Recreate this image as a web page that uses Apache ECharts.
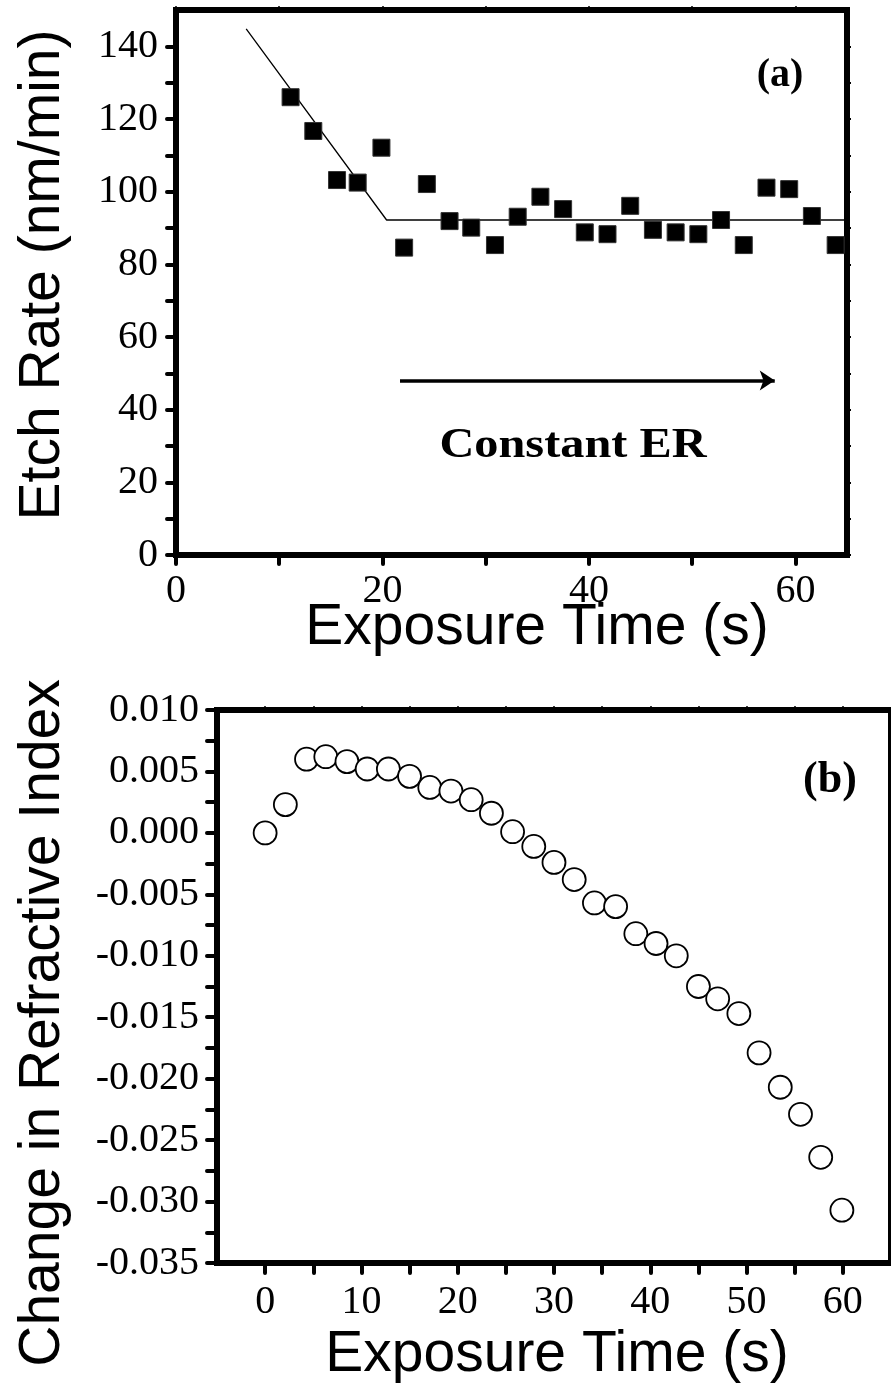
<!DOCTYPE html>
<html>
<head>
<meta charset="utf-8">
<script src="https://cdn.jsdelivr.net/npm/echarts@6/dist/echarts.min.js"></script>
<style>
html,body{margin:0;padding:0;background:#fff;}
#chart{width:891px;height:1387px;}
</style>
</head>
<body>
<div id="chart"></div>
<script>
// ---- Panel (a): etch rate ----
const timeA = [11.1, 13.3, 15.6, 17.6, 19.9, 22.1, 24.3, 26.5, 28.6, 30.9, 33.1, 35.3, 37.5, 39.6, 41.8, 44.0, 46.2, 48.4, 50.6, 52.8, 55.0, 57.2, 59.4, 61.6, 63.9];
const etchRate = [126.0, 116.7, 103.2, 102.5, 112.1, 84.6, 102.1, 91.9, 90.1, 85.3, 93.1, 98.6, 95.2, 88.8, 88.3, 96.1, 89.5, 88.8, 88.3, 92.2, 85.3, 101.1, 100.7, 93.3, 85.3];
const fitX = [6.8, 20.4, 65];
const fitY = [144.8, 92.2, 92.2];
const arrowX = [21.7, 58.0];
const arrowY = [48, 48];
const xTicksA = [0, 10, 20, 30, 40, 50, 60];
const xLabelsA = [0, 20, 40, 60];
const yTicksA = [0, 10, 20, 30, 40, 50, 60, 70, 80, 90, 100, 110, 120, 130, 140];
const yLabelsA = [0, 20, 40, 60, 80, 100, 120, 140];

// ---- Panel (b): change in refractive index ----
const timeB = [0, 2.1, 4.3, 6.3, 8.5, 10.6, 12.8, 15.0, 17.1, 19.3, 21.4, 23.5, 25.7, 27.9, 30.0, 32.1, 34.2, 36.4, 38.5, 40.6, 42.7, 45.0, 47.0, 49.2, 51.3, 53.5, 55.6, 57.7, 59.9];
const deltaN = [0.0000, 0.0023, 0.0060, 0.0062, 0.0058, 0.0052, 0.0052, 0.0046, 0.0037, 0.0034, 0.0027, 0.0016, 0.0001, -0.0011, -0.0024, -0.0038, -0.0057, -0.0060, -0.0082, -0.0090, -0.0100, -0.0125, -0.0135, -0.0147, -0.0179, -0.0207, -0.0229, -0.0264, -0.0307];
const xTicksB = [0, 5, 10, 15, 20, 25, 30, 35, 40, 45, 50, 55, 60];
const xLabelsB = [0, 10, 20, 30, 40, 50, 60];
const yTicksB = [-0.035, -0.0325, -0.03, -0.0275, -0.025, -0.0225, -0.02, -0.0175, -0.015, -0.0125, -0.01, -0.0075, -0.005, -0.0025, 0, 0.0025, 0.005, 0.0075, 0.01];
const yLabelsB = [-0.035, -0.03, -0.025, -0.02, -0.015, -0.01, -0.005, 0, 0.005, 0.01];

const serif = 'Liberation Serif';
const labelStyle = {color: '#000', fontFamily: serif, fontSize: 40};

function zip(a, b) { return a.map((v, i) => [v, b[i]]); }

const chart = echarts.init(document.getElementById('chart'), null, {renderer: 'canvas'});

const noLine = {show: false, onZero: false};

const option = {
  animation: false,
  backgroundColor: '#fff',
  grid: [
    {left: 176, top: 10, width: 671, height: 545, show: true, borderColor: '#000', borderWidth: 6, backgroundColor: 'rgba(0,0,0,0)'},
    {left: 217, top: 710, width: 676, height: 553, show: true, borderColor: '#000', borderWidth: 6, backgroundColor: 'rgba(0,0,0,0)'}
  ],
  xAxis: [
    {gridIndex: 0, type: 'value', min: 0, max: 65, position: 'bottom',
     axisLine: noLine, splitLine: {show: false},
     axisTick: {customValues: xTicksA, length: 9, lineStyle: {color: '#000', width: 4, cap: 'round'}},
     axisLabel: Object.assign({customValues: xLabelsA, margin: 16}, labelStyle)},
    {gridIndex: 0, type: 'value', min: 0, max: 65, position: 'top',
     axisLine: noLine, splitLine: {show: false},
     axisTick: {customValues: xTicksA, length: 4, lineStyle: {color: '#000', width: 1.5}},
     axisLabel: {show: false}},
    {gridIndex: 1, type: 'value', min: -5, max: 65, position: 'bottom',
     axisLine: noLine, splitLine: {show: false},
     axisTick: {customValues: xTicksB, length: 10, lineStyle: {color: '#000', width: 4, cap: 'round'}},
     axisLabel: Object.assign({customValues: xLabelsB, margin: 19}, labelStyle)},
    {gridIndex: 1, type: 'value', min: -5, max: 65, position: 'top',
     axisLine: noLine, splitLine: {show: false},
     axisTick: {customValues: xTicksB, length: 4, lineStyle: {color: '#000', width: 1.5}},
     axisLabel: {show: false}}
  ],
  yAxis: [
    {gridIndex: 0, type: 'value', min: 0, max: 150, position: 'left',
     axisLine: noLine, splitLine: {show: false},
     axisTick: {customValues: yTicksA, length: 9, lineStyle: {color: '#000', width: 4, cap: 'round'}},
     axisLabel: Object.assign({customValues: yLabelsA, margin: 18}, labelStyle)},
    {gridIndex: 0, type: 'value', min: 0, max: 150, position: 'right',
     axisLine: noLine, splitLine: {show: false},
     axisTick: {customValues: yTicksA, length: 4, lineStyle: {color: '#000', width: 2}},
     axisLabel: {show: false}},
    {gridIndex: 1, type: 'value', min: -0.035, max: 0.01, position: 'left',
     axisLine: noLine, splitLine: {show: false},
     axisTick: {customValues: yTicksB, length: 10, lineStyle: {color: '#000', width: 4, cap: 'round'}},
     axisLabel: Object.assign({customValues: yLabelsB, margin: 18,
       formatter: v => (Math.abs(v) < 1e-9 ? 0 : v).toFixed(3)}, labelStyle)}
  ],
  series: [
    {type: 'line', xAxisIndex: 0, yAxisIndex: 0, data: zip(fitX, fitY), symbol: 'none',
     lineStyle: {color: '#000', width: 1.3}, z: 2,
     markLine: {silent: true, symbol: ['none', 'arrow'], symbolSize: [15, 15],
       lineStyle: {color: '#000', width: 3.5, type: 'solid'}, label: {show: false},
       data: [[{coord: [arrowX[0], arrowY[0]]}, {coord: [arrowX[1], arrowY[1]]}]]}},
    {type: 'scatter', xAxisIndex: 0, yAxisIndex: 0, data: zip(timeA, etchRate), symbol: 'rect', symbolSize: 17,
     itemStyle: {color: '#000', borderColor: '#333', borderWidth: 1, opacity: 1}, z: 3},
    {type: 'scatter', xAxisIndex: 2, yAxisIndex: 2, data: zip(timeB, deltaN), symbol: 'circle', symbolSize: 23,
     itemStyle: {color: '#fff', borderColor: '#000', borderWidth: 1.8, opacity: 1}, z: 3}
  ],
  graphic: [
    {type: 'text', x: 537, y: 628, style: {text: 'Exposure Time (s)', font: '57px "Liberation Sans"', fill: '#000', textAlign: 'center', textVerticalAlign: 'middle'}},
    {type: 'text', x: 557, y: 1355, style: {text: 'Exposure Time (s)', font: '57px "Liberation Sans"', fill: '#000', textAlign: 'center', textVerticalAlign: 'middle'}},
    {type: 'text', x: 43, y: 275, rotation: Math.PI / 2, style: {text: 'Etch Rate (nm/min)', font: '57px "Liberation Sans"', fill: '#000', textAlign: 'center', textVerticalAlign: 'middle'}},
    {type: 'text', x: 43, y: 1023, rotation: Math.PI / 2, style: {text: 'Change in Refractive Index', font: '57px "Liberation Sans"', fill: '#000', textAlign: 'center', textVerticalAlign: 'middle'}},
    {type: 'text', x: 573, y: 446, scaleX: 1.15, style: {text: 'Constant ER', font: 'bold 42px "Liberation Serif"', fill: '#000', textAlign: 'center', textVerticalAlign: 'middle'}},
    {type: 'text', x: 780, y: 76, style: {text: '(a)', font: 'bold 40px "Liberation Serif"', fill: '#000', textAlign: 'center', textVerticalAlign: 'middle'}},
    {type: 'text', x: 830, y: 781, style: {text: '(b)', font: 'bold 44px "Liberation Serif"', fill: '#000', textAlign: 'center', textVerticalAlign: 'middle'}}
  ]
};
chart.setOption(option);
</script>
</body>
</html>
